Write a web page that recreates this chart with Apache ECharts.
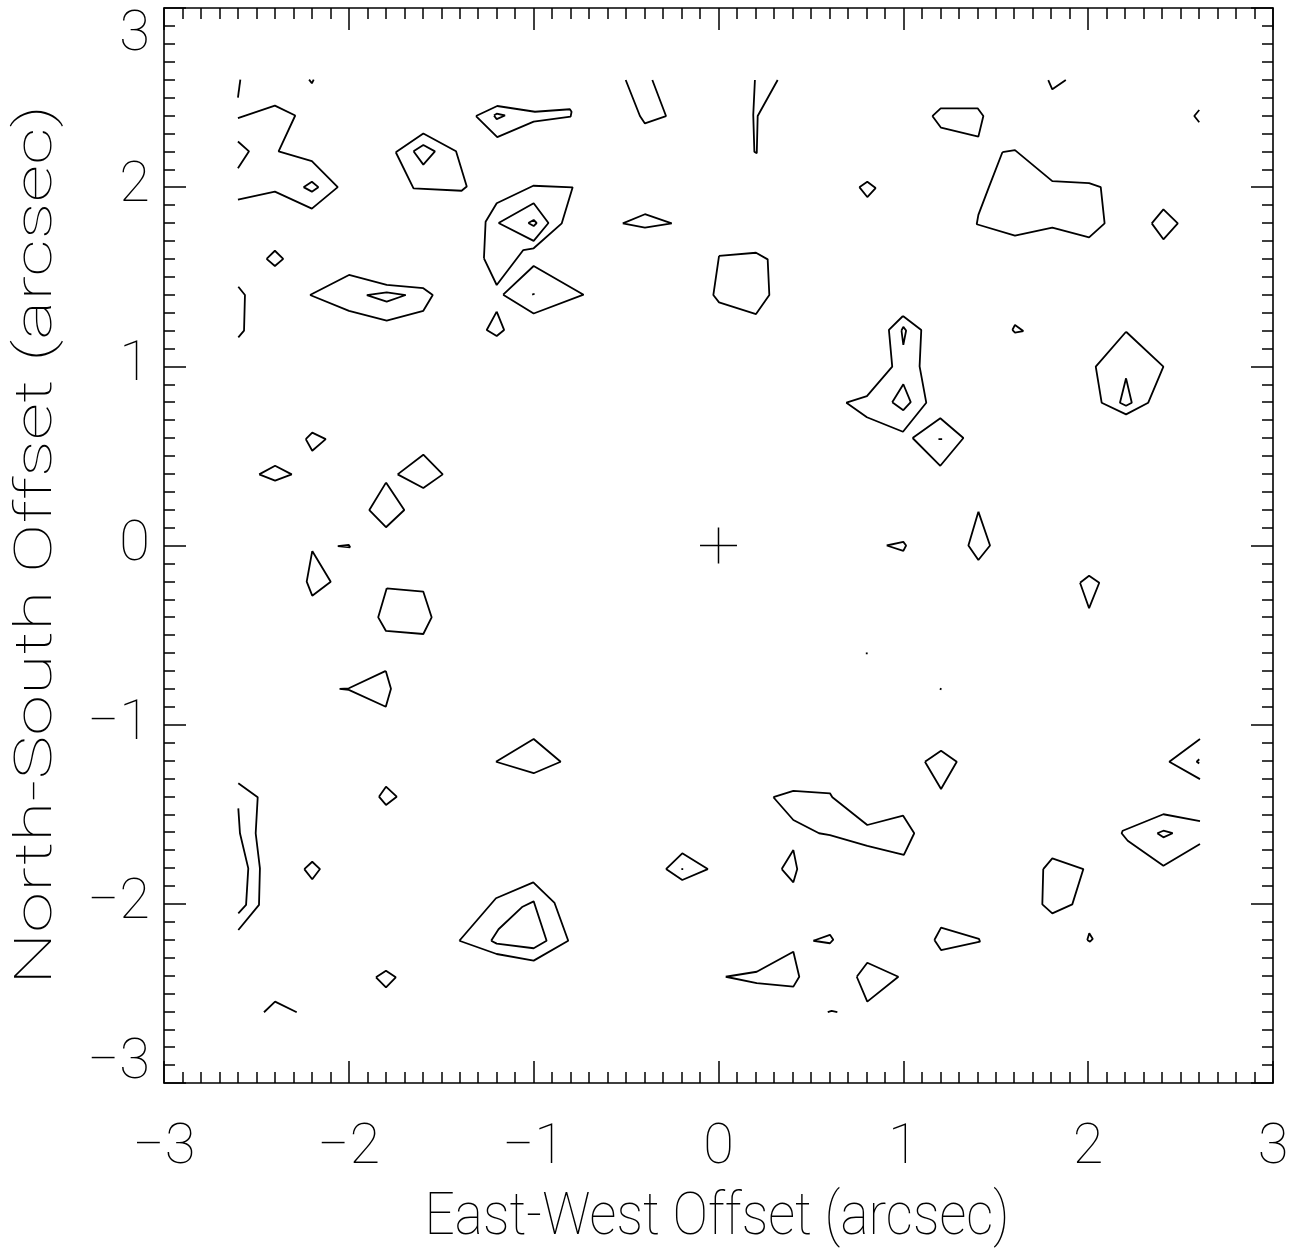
<!DOCTYPE html>
<html><head><meta charset="utf-8">
<script src="https://cdn.jsdelivr.net/npm/echarts@6/dist/echarts.min.js"></script>
<style>html,body{margin:0;padding:0;background:#fff}#c{width:1299px;height:1258px}</style>
</head><body><div id="c"></div>
<script>
// ---- tick labels / titles ----
const tickValues = [-3, -2, -1, 0, 1, 2, 3];
const xTickLabels = ['\u22123', '\u22122', '\u22121', '0', '1', '2', '3'];
const yTickLabels = ['\u22123', '\u22122', '\u22121', '0', '1', '2', '3'];
const xTitle = 'East-West Offset (arcsec)';
const yTitle = 'North-South Offset (arcsec)';

// ---- closed contour loops (arcsec) ----
const closedContours = [
  [[-2.245,2.0],[-2.2,2.03],[-2.165,2.0],[-2.2,1.975]],
  [[-1.746,2.195],[-1.597,2.30],[-1.42,2.2],[-1.362,2.004],[-1.39,1.98],[-1.65,1.993]],
  [[-1.65,2.2],[-1.597,2.235],[-1.534,2.2],[-1.597,2.126]],
  [[-1.312,2.397],[-1.197,2.453],[-0.993,2.421],[-0.804,2.435],[-0.795,2.421],[-0.8,2.394],[-1.0,2.366],[-1.197,2.279]],
  [[-1.215,2.4],[-1.2,2.41],[-1.155,2.4],[-1.2,2.38]],
  [[-1.269,1.603],[-1.26,1.807],[-1.2,1.91],[-1.002,2.008],[-0.789,1.999],[-0.848,1.798],[-1.0,1.659],[-1.056,1.649],[-1.2,1.454]],
  [[-1.19,1.8],[-1.0,1.91],[-0.92,1.8],[-1.0,1.70]],
  [[-1.029,1.80],[-1.0,1.817],[-0.984,1.80],[-1.0,1.783]],
  [[-1.165,1.4],[-1.0,1.56],[-0.73,1.4],[-1.0,1.295]],
  [[-1.008,1.4],[-0.995,1.405],[-0.985,1.4],[-0.995,1.395]],
  [[-1.2,1.305],[-1.16,1.203],[-1.2,1.169],[-1.254,1.203]],
  [[-2.445,1.6],[-2.4,1.645],[-2.355,1.6],[-2.4,1.56]],
  [[-2.21,1.398],[-1.999,1.51],[-1.795,1.455],[-1.597,1.436],[-1.546,1.398],[-1.597,1.31],[-1.795,1.255],[-1.999,1.31]],
  [[-1.903,1.398],[-1.795,1.413],[-1.692,1.398],[-1.795,1.361]],
  [[-0.518,1.798],[-0.398,1.849],[-0.253,1.798],[-0.398,1.774]],
  [[0.003,1.616],[0.203,1.634],[0.266,1.597],[0.275,1.398],[0.203,1.292],[0.003,1.357],[-0.028,1.398]],
  [[0.762,2.0],[0.805,2.03],[0.85,1.995],[0.805,1.945]],
  [[0.998,1.281],[1.097,1.203],[1.088,1.0],[1.124,0.797],[0.998,0.635],[0.803,0.716],[0.692,0.797],[0.803,0.834],[0.94,0.998],[0.922,1.203]],
  [[0.99,1.2],[1.0,1.22],[1.015,1.2],[1.0,1.12]],
  [[0.94,0.8],[1.0,0.9],[1.04,0.8],[1.0,0.755]],
  [[1.05,0.6],[1.2,0.71],[1.325,0.6],[1.2,0.445]],
  [[1.19,0.594],[1.2,0.602],[1.21,0.594],[1.2,0.586]],
  [[1.157,2.397],[1.202,2.44],[1.402,2.44],[1.433,2.397],[1.406,2.282],[1.204,2.332]],
  [[1.536,2.195],[1.604,2.207],[1.806,2.034],[2.005,2.022],[2.068,2.0],[2.089,1.798],[2.005,1.72],[1.806,1.774],[1.604,1.729],[1.397,1.793],[1.406,1.845],[1.463,2.0]],
  [[2.344,1.798],[2.407,1.876],[2.485,1.798],[2.407,1.709]],
  [[1.59,1.203],[1.604,1.231],[1.649,1.197],[1.604,1.188]],
  [[2.205,1.193],[2.407,0.998],[2.325,0.797],[2.205,0.732],[2.073,0.797],[2.041,0.998]],
  [[2.205,0.933],[2.236,0.797],[2.205,0.78],[2.172,0.797]],
  [[-2.233,0.594],[-2.198,0.63],[-2.125,0.594],[-2.198,0.529]],
  [[-2.485,0.397],[-2.399,0.445],[-2.309,0.397],[-2.399,0.362]],
  [[-1.736,0.397],[-1.597,0.507],[-1.492,0.397],[-1.597,0.321]],
  [[-1.799,0.351],[-1.7,0.198],[-1.799,0.102],[-1.889,0.198]],
  [[-2.06,-0.003],[-2.0,0.003],[-1.993,-0.01],[-2.0,-0.018]],
  [[-2.198,-0.031],[-2.098,-0.202],[-2.198,-0.28],[-2.228,-0.202]],
  [[-1.795,-0.239],[-1.597,-0.258],[-1.552,-0.401],[-1.597,-0.494],[-1.799,-0.477],[-1.841,-0.401]],
  [[-1.8,-0.7],[-1.772,-0.8],[-1.8,-0.9],[-2.0,-0.806],[-2.05,-0.8],[-2.0,-0.797]],
  [[0.91,0.0],[1.0,0.02],[1.015,0.0],[1.0,-0.03]],
  [[0.797,-0.602],[0.802,-0.597],[0.807,-0.602],[0.802,-0.607]],
  [[1.2,-0.806],[1.204,-0.796],[1.208,-0.806],[1.204,-0.816]],
  [[1.406,0.189],[1.469,0.0],[1.406,-0.081],[1.352,0.0]],
  [[1.956,-0.208],[2.005,-0.169],[2.06,-0.208],[2.005,-0.35]],
  [[-2.241,-1.806],[-2.198,-1.765],[-2.156,-1.806],[-2.198,-1.863]],
  [[-1.837,-1.402],[-1.799,-1.346],[-1.741,-1.402],[-1.799,-1.448]],
  [[-1.853,-2.41],[-1.799,-2.373],[-1.746,-2.41],[-1.799,-2.466]],
  [[-1.204,-1.207],[-1.0,-1.08],[-0.854,-1.207],[-1.0,-1.271]],
  [[-1.402,-2.206],[-1.204,-1.969],[-1.002,-1.88],[-0.887,-1.995],[-0.813,-2.206],[-1.0,-2.317],[-1.2,-2.28]],
  [[-1.23,-2.206],[-1.19,-2.142],[-1.06,-2.016],[-1.0,-1.986],[-0.93,-2.206],[-1.0,-2.248],[-1.2,-2.222]],
  [[-0.284,-1.806],[-0.196,-1.718],[-0.058,-1.806],[-0.196,-1.867]],
  [[-0.201,-1.806],[-0.196,-1.8],[-0.191,-1.806],[-0.196,-1.812]],
  [[0.342,-1.806],[0.405,-1.7],[0.426,-1.806],[0.405,-1.88]],
  [[0.297,-1.405],[0.405,-1.37],[0.603,-1.383],[0.616,-1.405],[0.805,-1.56],[0.999,-1.508],[1.059,-1.606],[1.003,-1.727],[0.805,-1.677],[0.603,-1.616],[0.544,-1.606],[0.405,-1.532]],
  [[0.513,-2.206],[0.603,-2.173],[0.621,-2.2],[0.603,-2.22]],
  [[0.039,-2.407],[0.207,-2.379],[0.405,-2.267],[0.437,-2.407],[0.405,-2.462],[0.207,-2.443]],
  [[0.748,-2.407],[0.805,-2.329],[0.973,-2.407],[0.805,-2.546]],
  [[1.117,-1.207],[1.204,-1.145],[1.289,-1.207],[1.204,-1.359]],
  [[1.168,-2.202],[1.204,-2.133],[1.409,-2.196],[1.415,-2.211],[1.204,-2.258]],
  [[1.757,-1.806],[1.806,-1.746],[1.974,-1.806],[1.914,-2.003],[1.806,-2.053],[1.752,-2.003]],
  [[1.995,-2.202],[2.006,-2.164],[2.025,-2.196],[2.01,-2.211]],
  [[2.374,-1.606],[2.407,-1.592],[2.457,-1.606],[2.407,-1.629]]
];

// ---- open contour pieces (cut by the map edge) ----
const openContours = [
  [[-2.6,2.50],[-2.587,2.6]],
  [[-2.215,2.6],[-2.2,2.58],[-2.19,2.6]],
  [[-2.6,2.385],[-2.4,2.455],[-2.29,2.40],[-2.38,2.2],[-2.2,2.145],[-2.06,2.0],[-2.2,1.88],[-2.4,1.975],[-2.6,1.93]],
  [[-2.6,2.255],[-2.54,2.2],[-2.6,2.105]],
  [[-2.598,1.444],[-2.562,1.398],[-2.567,1.199],[-2.598,1.162]],
  [[-0.502,2.598],[-0.425,2.397],[-0.398,2.356],[-0.284,2.397],[-0.358,2.598]],
  [[0.197,2.598],[0.188,2.403],[0.194,2.198],[0.207,2.189],[0.212,2.397],[0.32,2.598]],
  [[1.784,2.598],[1.806,2.546],[1.879,2.598]],
  [[2.601,2.431],[2.574,2.397],[2.601,2.362]],
  [[-2.598,-1.327],[-2.493,-1.405],[-2.504,-1.606],[-2.481,-1.802],[-2.486,-2.006],[-2.598,-2.146]],
  [[-2.598,-1.467],[-2.589,-1.606],[-2.544,-1.802],[-2.556,-2.006],[-2.598,-2.053]],
  [[-2.459,-2.605],[-2.399,-2.546],[-2.282,-2.605]],
  [[0.591,-2.605],[0.612,-2.598],[0.643,-2.605]],
  [[2.605,-1.08],[2.439,-1.207],[2.605,-1.304]],
  [[2.601,-1.193],[2.587,-1.207],[2.601,-1.216]],
  [[2.605,-1.538],[2.407,-1.5],[2.187,-1.592],[2.181,-1.606],[2.214,-1.648],[2.407,-1.787],[2.605,-1.666]]
];

// ---- centre marker ----
const centerCross = [
  [[-0.1,0],[0.1,0]],
  [[0,0.1],[0,-0.1]]
];

// ---------------------------------------------------------------
const FONT = 'Roboto, "DejaVu Sans", sans-serif';
const FW = 100;
const series = [];
function addLine(pts, closed, w) {
  const d = pts.slice();
  if (closed) d.push(pts[0]);
  series.push({
    type: 'line', data: d, xAxisIndex: 0, yAxisIndex: 0,
    showSymbol: false, symbol: 'none', silent: true, animation: false,
    lineStyle: { color: '#000', width: w }, z: 3
  });
}
closedContours.forEach(p => addLine(p, true, 1.8));
openContours.forEach(p => addLine(p, false, 1.8));
centerCross.forEach(p => addLine(p, false, 1.5));

const tickLine = { color: '#000', width: 1.5 };
function baseAxis(pos, showLabel, labels) {
  const isX = pos === 'bottom' || pos === 'top';
  let lab = { show: false };
  if (showLabel) {
    lab = {
      show: true, margin: isX ? 38 : 14, color: '#000',
      fontFamily: FONT, fontWeight: FW, fontSize: 56,
      formatter: v => labels[Math.round(v) + 3]
    };
    if (!isX) {
      lab.verticalAlignMaxLabel = 'top';
      lab.verticalAlignMinLabel = 'bottom';
      lab.rich = { lo: { fontFamily: FONT, fontWeight: FW, fontSize: 56, color: '#000', lineHeight: 38 } };
      lab.formatter = v => {
        const i = Math.round(v) + 3;
        return i === 0 ? '{lo|' + labels[i] + '}' : labels[i];
      };
    }
  }
  return {
    type: 'value', min: -3, max: 3, interval: 1, position: pos,
    axisLine: { show: true, onZero: false, lineStyle: { color: '#000', width: 1.6 } },
    axisTick: { show: true, inside: true, length: 22, lineStyle: tickLine },
    minorTick: { show: true, splitNumber: 10, length: 11, lineStyle: tickLine },
    splitLine: { show: false }, minorSplitLine: { show: false },
    axisLabel: lab
  };
}

function measure(text, size) {
  const ctx = document.createElement('canvas').getContext('2d');
  ctx.font = FW + ' ' + size + 'px ' + FONT;
  return ctx.measureText(text).width;
}
const TSX = 60, TSY = 52;
const chart = echarts.init(document.getElementById('c'), null, { renderer: 'canvas' });
chart.setOption({
  backgroundColor: '#fff',
  animation: false,
  grid: { left: 164, top: 8, width: 1109, height: 1075, containLabel: false, outerBoundsMode: 'none' },
  xAxis: [baseAxis('bottom', true, xTickLabels), baseAxis('top', false)],
  yAxis: [baseAxis('left', true, yTickLabels), baseAxis('right', false)],
  series: series,
  graphic: [
    { type: 'text', x: 717, y: 1219, scaleX: 585 / measure(xTitle, TSX), silent: true,
      style: { text: xTitle, fontFamily: FONT, fontWeight: FW, fontSize: TSX, fill: '#000', align: 'center', verticalAlign: 'middle' } },
    { type: 'text', x: 38, y: 545, rotation: Math.PI / 2, scaleX: 880 / measure(yTitle, TSY), silent: true,
      style: { text: yTitle, fontFamily: FONT, fontWeight: FW, fontSize: TSY, fill: '#000', align: 'center', verticalAlign: 'middle' } }
  ]
});
</script>
</body></html>
